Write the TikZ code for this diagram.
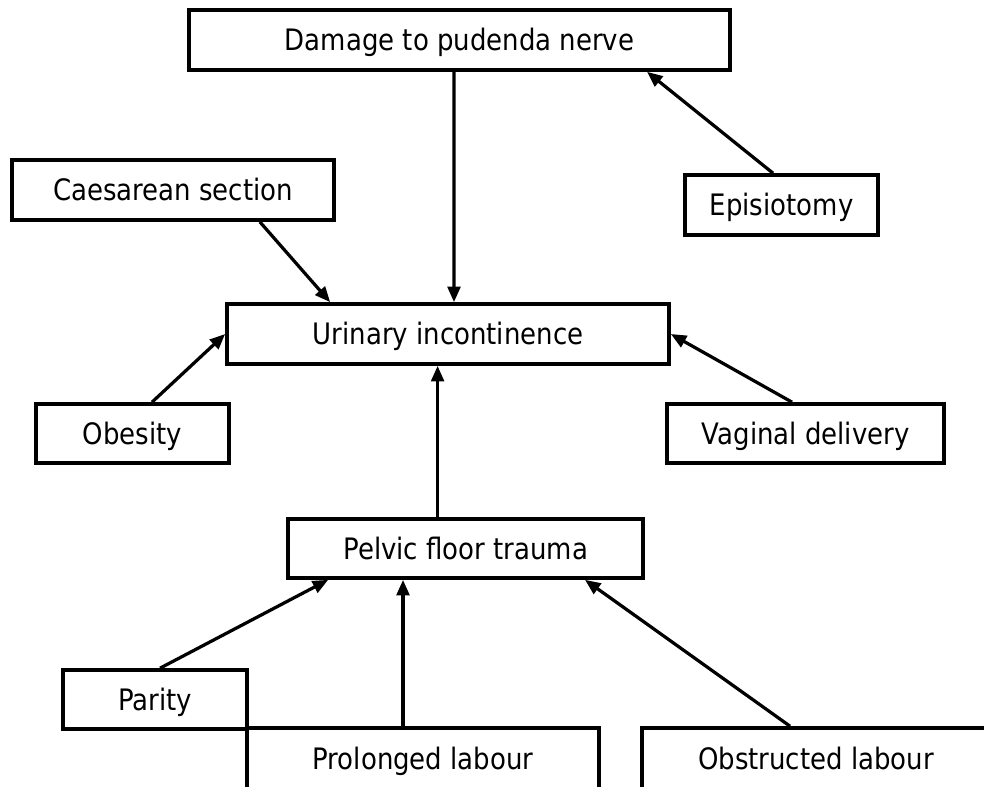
\documentclass[tikz,border=0pt]{standalone}
\usepackage{fontspec}
\setmainfont{DejaVu Sans}[FakeStretch=0.88]
\usetikzlibrary{arrows.meta}

\begin{document}
\begin{tikzpicture}[
        box/.style={draw, line width=2.6pt, inner sep=0pt, align=center,
            text height=15.3pt, text depth=0pt,
            font=\fontsize{21}{25}\selectfont},
        arr/.style={line width=2.3pt, -{Triangle[length=11pt, width=9pt]}}
    ]
        % page frame (the lowest boxes run off the page)
        \clip (0,0) rectangle (24.6,-19.65);

        % causes and outcome
        \node [box, minimum width=13.53cm, minimum height=1.5cm] (dmg) at (11.49,-1.0) {Damage to pudenda nerve};
        \node [box, minimum width=8.05cm, minimum height=1.5cm] (cs) at (4.325,-4.75) {Caesarean section};
        \node [box, minimum width=4.83cm, minimum height=1.5cm] (epi) at (19.54,-5.125) {Episiotomy};
        \node [box, minimum width=11.05cm, minimum height=1.5cm] (ui) at (11.2,-8.35) {Urinary incontinence};
        \node [box, minimum width=4.83cm, minimum height=1.48cm] (ob) at (3.31,-10.84) {Obesity};
        \node [box, minimum width=6.93cm, minimum height=1.48cm] (vd) at (20.14,-10.84) {Vaginal delivery};
        \node [box, minimum width=8.88cm, minimum height=1.48cm] (pft) at (11.64,-13.71) {Pelvic floor trauma};
        \node [box, minimum width=4.6cm, minimum height=1.48cm] (par) at (3.875,-17.49) {Parity};
        \node [box, minimum width=8.8cm, minimum height=1.55cm] (pl) at (10.575,-18.975) {Prolonged labour};
        \node [box, minimum width=8.7cm, minimum height=1.55cm] (obl) at (20.4,-18.975) {Obstructed labour};

        % links
        \draw[arr] ([xshift=-0.14cm]dmg.south) -- ([xshift=0.15cm]ui.north);
        \draw[arr] ([xshift=-0.215cm]epi.north) -- ([xshift=-2.125cm]dmg.south east);
        \draw[arr] ([xshift=-1.9cm]cs.south east) -- ([xshift=2.625cm]ui.north west);
        \draw[arr] ([xshift=0.49cm]ob.north) -- (ui.west);
        \draw[arr] ([xshift=-0.34cm]vd.north) -- (ui.east);
        \draw[arr] ([xshift=-0.7cm]pft.north) -- ([xshift=-0.7cm]pft.north |- ui.south);
        \draw[arr] ([xshift=0.125cm]par.north) -- ([xshift=1.05cm]pft.south west);
        \draw[arr] ([xshift=-0.5cm]pl.north) -- ([xshift=-0.5cm]pl.north |- pft.south);
        \draw[arr] ([xshift=-0.65cm]obl.north) -- ([xshift=-1.5cm]pft.south east);
    \end{tikzpicture}
\end{document}
